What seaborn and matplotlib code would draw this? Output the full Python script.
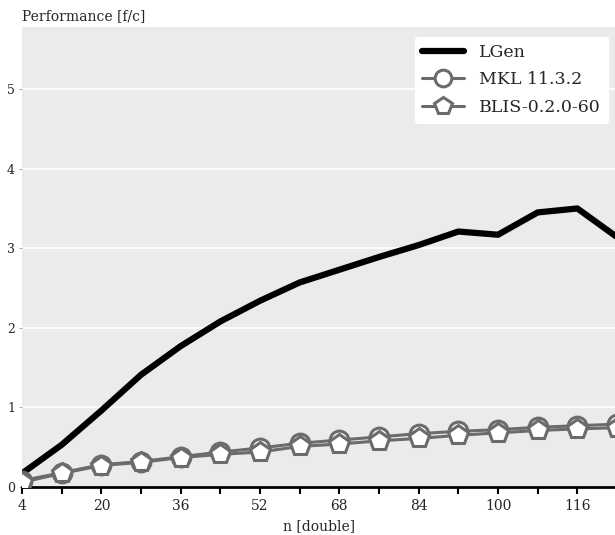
import matplotlib
matplotlib.use("Agg")
import matplotlib.pyplot as plt
import seaborn as sns
import pandas as pd
from matplotlib.ticker import FixedLocator
from matplotlib.lines import Line2D

n_values = [4, 12, 20, 28, 36, 44, 52, 60, 68, 76, 84, 92, 100, 108, 116, 124]
lgen = [0.17, 0.53, 0.96, 1.41, 1.77, 2.08, 2.34, 2.57, 2.73, 2.89, 3.04, 3.21, 3.17, 3.45, 3.50, 3.14]
mkl = [0.08, 0.18, 0.28, 0.32, 0.38, 0.44, 0.49, 0.55, 0.59, 0.63, 0.67, 0.70, 0.72, 0.75, 0.77, 0.79]
blis = [0.06, 0.17, 0.27, 0.31, 0.37, 0.41, 0.44, 0.51, 0.54, 0.58, 0.61, 0.65, 0.68, 0.71, 0.73, 0.745]
series_names = ["LGen", "MKL 11.3.2", "BLIS-0.2.0-60"]
major_ticks = [4, 20, 36, 52, 68, 84, 100, 116]
minor_ticks = [12, 28, 44, 60, 76, 92, 108, 124]
y_ticks = [0, 1, 2, 3, 4, 5]

sns.set_style("darkgrid", {"axes.facecolor": "#ebebeb", "grid.color": "white"})
plt.rcParams["font.family"] = ["DejaVu Serif"]

W, H = 615, 535
fig = plt.figure(figsize=(W / 100, H / 100), dpi=100)
ax = fig.add_axes([22 / W, (535 - 487) / H, (617 - 22) / W, (487 - 27) / H])

df_l = pd.DataFrame({"n": n_values, "perf": lgen})
df_m = pd.DataFrame({"n": n_values, "perf": mkl})
df_b = pd.DataFrame({"n": n_values, "perf": blis})

grey = "#6b6b6b"
ms_c, ms_p = 13.5, 14.5
sns.lineplot(data=df_l, x="n", y="perf", ax=ax, color="black", linewidth=4.5, zorder=3)
sns.lineplot(data=df_m, x="n", y="perf", ax=ax, color=grey, linewidth=2.2, marker="o",
             markersize=ms_c, markerfacecolor="white", markeredgecolor=grey,
             markeredgewidth=2.2, zorder=4)
sns.lineplot(data=df_b, x="n", y="perf", ax=ax, color=grey, linewidth=2.2, marker="p",
             markersize=ms_p, markerfacecolor="white", markeredgecolor=grey,
             markeredgewidth=2.2, zorder=5)

ax.set_xlim(4, 124)
ax.set_ylim(0, 5.78)
ax.xaxis.set_major_locator(FixedLocator(major_ticks))
ax.xaxis.set_minor_locator(FixedLocator(minor_ticks))
ax.set_yticks(y_ticks)
ax.grid(axis="x", which="both", visible=False)
ax.grid(axis="y", color="white", linewidth=1.2)

for s in ["left", "right", "top"]:
    ax.spines[s].set_visible(False)
ax.spines["bottom"].set_visible(True)
ax.spines["bottom"].set_color("black")
ax.spines["bottom"].set_linewidth(2)

ax.tick_params(axis="x", which="major", direction="out", length=5, width=1.5,
               color="black", labelsize=10, pad=4, bottom=True)
ax.tick_params(axis="x", which="minor", direction="out", length=5, width=1.5,
               color="black", bottom=True)
ax.tick_params(axis="y", direction="out", length=2, width=0.6, color="#999999",
               labelsize=9, pad=3, left=True)

ax.set_xlabel("n [double]", fontsize=10, labelpad=4)
ax.set_ylabel("")
fig.text(22 / W, 1 - 20 / H, "Performance [f/c]", fontsize=10, va="baseline", ha="left")

handles = [
    Line2D([], [], color="black", linewidth=4.5),
    Line2D([], [], color=grey, linewidth=2.2, marker="o", markersize=12,
           markerfacecolor="white", markeredgecolor=grey, markeredgewidth=2.2),
    Line2D([], [], color=grey, linewidth=2.2, marker="p", markersize=13,
           markerfacecolor="white", markeredgecolor=grey, markeredgewidth=2.2),
]
leg = ax.legend(handles, series_names, loc="upper right",
                bbox_to_anchor=((608 - 22) / 595, (487 - 37) / 460),
                borderaxespad=0, fontsize=12.5, frameon=True, fancybox=True,
                framealpha=1, edgecolor="white", facecolor="white",
                handlelength=2.4, borderpad=0.4, labelspacing=0.6,
                handletextpad=0.9)

fig.savefig("out.png", dpi=100)
